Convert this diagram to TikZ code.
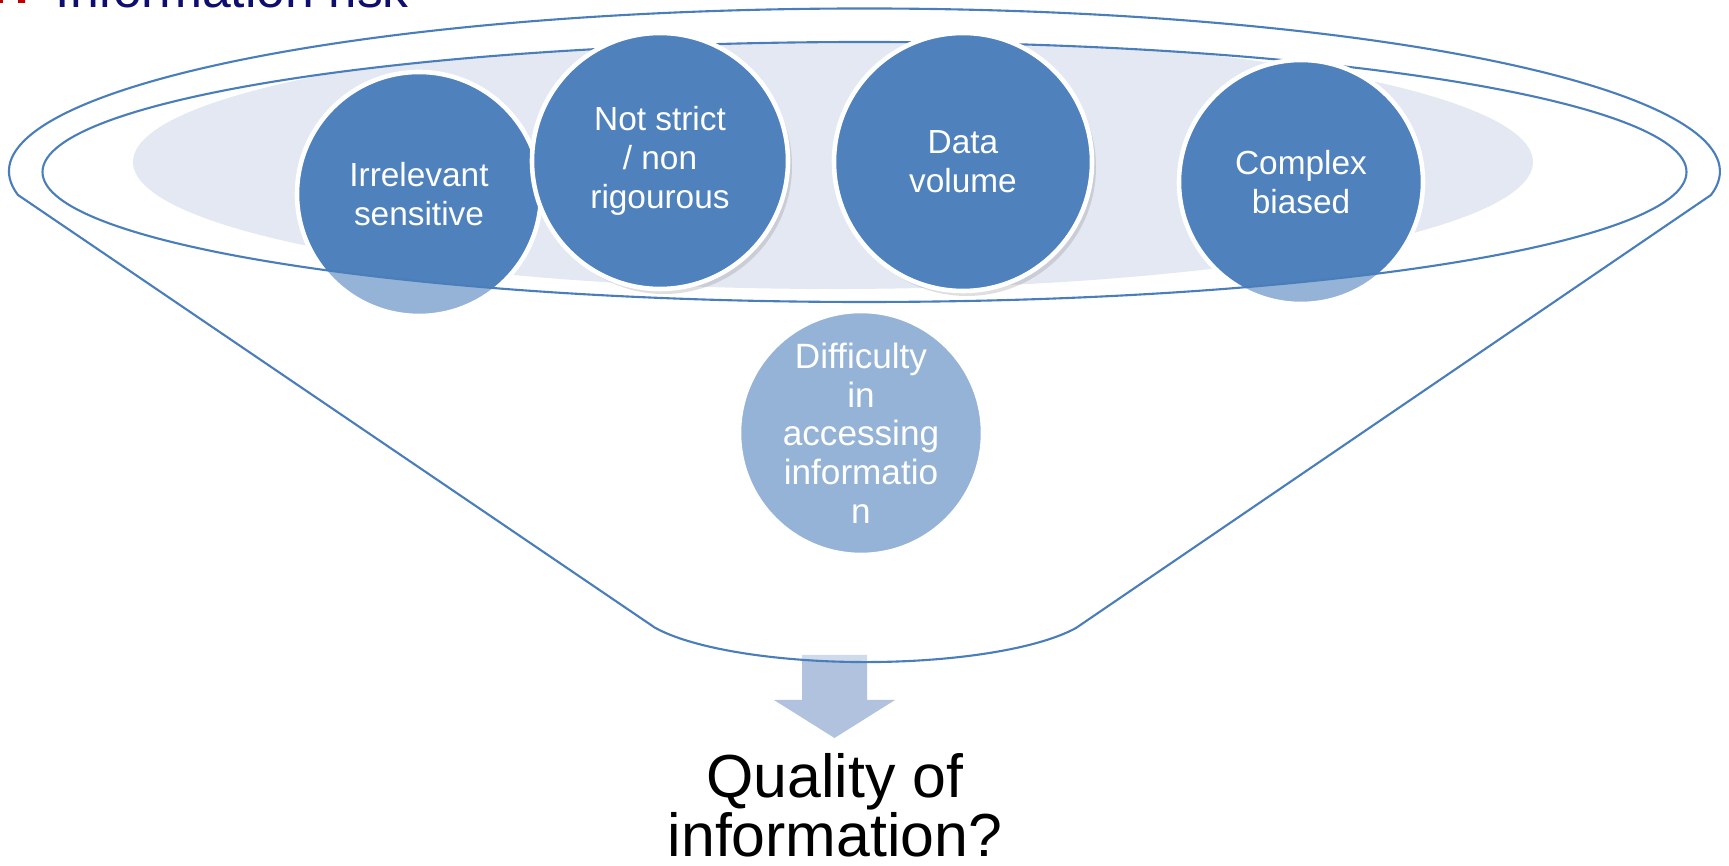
\documentclass[tikz,border=0pt]{standalone}
\usepackage{fontspec}
\setmainfont{Liberation Sans}
\usetikzlibrary{shadows}
\definecolor{rimblue}{RGB}{74,126,187}
\definecolor{bubbleblue}{RGB}{79,129,189}
\definecolor{mist}{RGB}{227,232,242}
\definecolor{arrowblue}{RGB}{176,194,222}
\definecolor{titlenavy}{RGB}{14,14,110}
\definecolor{bulletred}{RGB}{192,0,0}

\begin{document}
\begin{tikzpicture}[x=0.1mm,y=-0.1mm,
	rim/.style={draw=rimblue,line width=0.6pt},
	bubble/.style={circle,fill=bubbleblue,draw=white,line width=1.3pt,inner sep=0pt,align=center,text=white,font=\fontsize{9.5}{11}\selectfont},
	lifted/.style={drop shadow={shadow xshift=0.4mm,shadow yshift=-0.5mm,opacity=0.25}},
	verdict/.style={anchor=base,inner sep=0pt,font=\fontsize{17.3}{18}\selectfont}]
	\useasboundingbox (0,0) rectangle (1729,866);
	\clip (0,0) rectangle (1729,866);
	\fill[bulletred] (0,-12) rectangle (3,3) (18,-12) rectangle (25,3);
	\node[anchor=base west,inner sep=0pt,text=titlenavy,font=\fontsize{14.7}{16}\selectfont] (title) at (55,8) {Information risk};
	\begin{scope}
		\clip (864.5,172) ellipse [x radius=822,y radius=130];
		\fill[mist] (833,162) ellipse [x radius=700,y radius=127];
	\end{scope}
	\draw[rim] (42.5,172) arc[start angle=180,end angle=360,x radius=822,y radius=130];
	\fill[arrowblue] (802,655) -- (867,655) -- (867,700) -- (895,700) -- (834.5,738) -- (774,700) -- (802,700) -- cycle;
	\node[bubble,minimum size=24.4mm] (irr) at (419,194) {Irrelevant\\sensitive};
	\node[bubble,lifted,minimum size=25.6mm] (strict) at (660,161) {Not strict\\/ non\\rigourous};
	\node[bubble,lifted,minimum size=25.8mm] (volume) at (963,162) {Data\\volume};
	\node[bubble,minimum size=24.4mm] (complex) at (1301,182) {Complex\\biased};
	\node[bubble,minimum size=24.4mm,font=\fontsize{10}{11}\selectfont] (access) at (861,433) {Difficulty\\in\\accessing\\informatio\\n};
	\fill[white,opacity=0.4] (9,172) -- (18,195) -- (655.4,628) arc[start angle=155,end angle=25,x radius=232,y radius=59] -- (1712,196) -- (1720,172) -- (1686.5,172) arc[start angle=0,end angle=180,x radius=822,y radius=130] -- cycle;
	\draw[rim] (655.4,628) -- (18,195) arc[start angle=171.7,end angle=368.3,x radius=855.5,y radius=163] -- (1076,628) arc[start angle=25,end angle=155,x radius=232,y radius=59];
	\draw[rim] (1686.5,172) arc[start angle=0,end angle=180,x radius=822,y radius=130];
	\node[verdict] (quality) at (835,798) {Quality of};
	\node[verdict] (info) at (835,857) {information?};
\end{tikzpicture}
\end{document}
